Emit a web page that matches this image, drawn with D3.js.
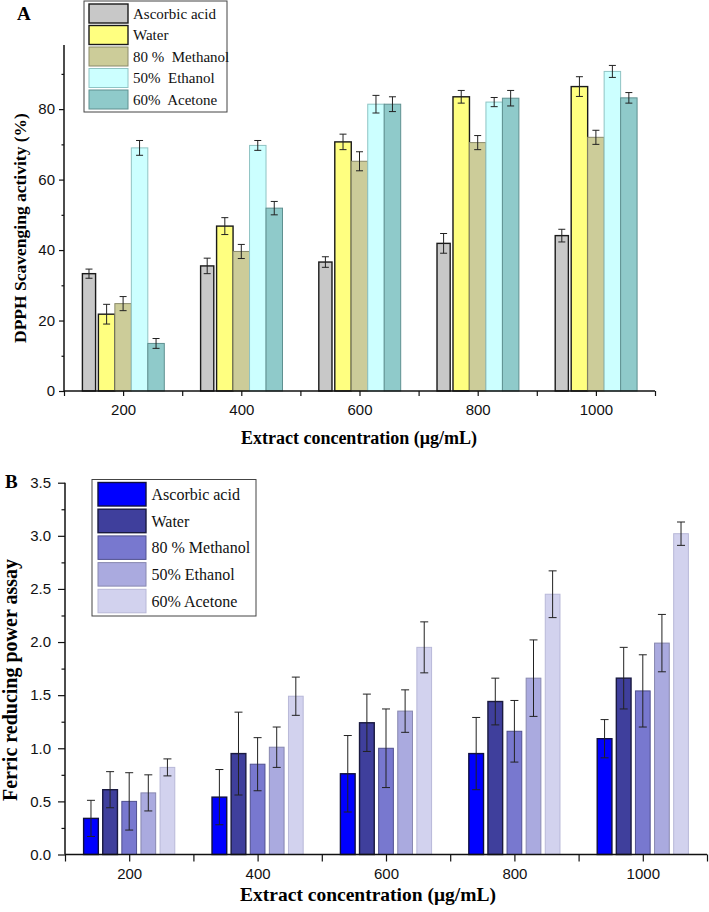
<!DOCTYPE html>
<html><head><meta charset="utf-8">
<script src="https://cdn.jsdelivr.net/npm/d3@7"></script>
<style>body{margin:0;background:#fff}svg{display:block}</style>
</head><body>
<svg id="c" width="709" height="912"></svg>
<script>
const concentrations = [200, 400, 600, 800, 1000];
const seriesA = ["Ascorbic acid", "Water", "80 %  Methanol", "50%  Ethanol", "60%  Acetone"];
const seriesB = ["Ascorbic acid", "Water", "80 % Methanol", "50% Ethanol", "60% Acetone"];
// Panel A: DPPH scavenging (%), rows = series, cols = concentrations
const dpphValues = [
  [33.3, 35.5, 36.6, 41.9, 44.1],
  [21.8, 46.8, 70.7, 83.5, 86.4],
  [24.8, 39.6, 65.2, 70.5, 72.0],
  [69.0, 69.7, 81.4, 82.0, 90.7],
  [13.5, 51.9, 81.4, 83.1, 83.2]
];
const dpphErrors = [
  [1.3, 2.2, 1.5, 2.8, 1.8],
  [2.8, 2.4, 2.2, 1.8, 2.8],
  [2.0, 2.0, 2.7, 2.0, 2.0],
  [2.1, 1.4, 2.5, 1.3, 1.7],
  [1.4, 1.9, 2.1, 2.2, 1.5]
];
// Panel B: Ferric reducing power
const frpValues = [
  [0.34, 0.54, 0.76, 0.95, 1.09],
  [0.61, 0.95, 1.24, 1.44, 1.66],
  [0.50, 0.85, 1.00, 1.16, 1.54],
  [0.58, 1.01, 1.35, 1.66, 1.99],
  [0.82, 1.49, 1.95, 2.45, 3.02]
];
const frpErrors = [
  [0.17, 0.26, 0.36, 0.34, 0.18],
  [0.17, 0.39, 0.27, 0.22, 0.29],
  [0.27, 0.25, 0.37, 0.29, 0.34],
  [0.17, 0.19, 0.20, 0.36, 0.27],
  [0.08, 0.18, 0.24, 0.22, 0.11]
];
const yTicksA = [0, 20, 40, 60, 80];
const yTicksB = [0.0, 0.5, 1.0, 1.5, 2.0, 2.5, 3.0, 3.5];

const fillA = ["#c8c8c8", "#ffff80", "#cccc99", "#ccffff", "#8fcaca"];
const strokeA = ["#1a1a1a", "#1a1a1a", "#8a8a6a", "#8fc4c4", "#5f9090"];
const fillB = ["#0000ff", "#3f3f9c", "#7878cf", "#aaaadf", "#d2d2ee"];
const strokeB = ["#101040", "#1a1a40", "#505090", "#8888b0", "#b8b8d8"];

const svg = d3.select("#c");
const serif = "'Liberation Serif','Times New Roman',serif";
const sans = "Arial,'Liberation Sans',sans-serif";

function panel(o) {
  const g = svg.append("g");
  const x = d3.scaleLinear().domain([100, 1100]).range([o.x0, o.x1]);
  const y = d3.scaleLinear().domain(o.ydom).range([o.yb, o.yt]);
  const step = x(300) - x(100);
  const inner = d3.scaleBand().domain(d3.range(5)).range([-o.groupW * step / 2, o.groupW * step / 2]).paddingInner(o.padIn);

  // bars
  o.values.forEach((row, si) => {
    row.forEach((v, ci) => {
      const cx = x(concentrations[ci]);
      let bx = cx + inner(si), bw = inner.bandwidth();
      if (o.narrowFirst && si === 0) { bx += 0.5; bw *= 0.8; }
      g.append("rect").attr("x", bx).attr("y", y(v)).attr("width", bw).attr("height", y(0) - y(v))
        .attr("fill", o.fills[si]).attr("stroke", o.strokes[si]).attr("stroke-width", si < 2 ? 1.4 : 1);
      const ex = bx + bw / 2, e = o.errors[si][ci];
      const eg = g.append("g").attr("stroke", "#222").attr("stroke-width", 1);
      eg.append("line").attr("x1", ex).attr("x2", ex).attr("y1", y(v + e)).attr("y2", y(v - e));
      eg.append("line").attr("x1", ex - o.cap).attr("x2", ex + o.cap).attr("y1", y(v + e)).attr("y2", y(v + e));
      eg.append("line").attr("x1", ex - o.cap).attr("x2", ex + o.cap).attr("y1", y(v - e)).attr("y2", y(v - e));
    });
  });

  // y axis
  const ya = g.append("g").attr("transform", `translate(${o.x0},0)`)
    .call(d3.axisLeft(y).tickValues(o.yTicks).tickSize(o.tick).tickFormat(o.yfmt).tickPadding(o.ypad));
  ya.append("g").call(d3.axisLeft(y).tickValues(o.yMinor).tickSize(o.tick / 2).tickFormat(""));
  g.selectAll("path.domain").remove();
  g.append("line").attr("x1", o.x0).attr("x2", o.x0).attr("y1", o.yb).attr("y2", o.yt).attr("stroke", "#111").attr("stroke-width", 1.5);

  // x axis
  const xa = g.append("g").attr("transform", `translate(0,${o.yb})`)
    .call(d3.axisBottom(x).tickValues(concentrations).tickSize(o.tick).tickPadding(o.xpad).tickFormat(d3.format("d")));
  xa.append("g").call(d3.axisBottom(x).tickValues([100, 300, 500, 700, 900, 1100]).tickSize(o.tick).tickFormat(""));
  g.selectAll("path.domain").remove();
  g.append("line").attr("x1", o.x0).attr("x2", o.x1).attr("y1", o.yb).attr("y2", o.yb).attr("stroke", "#111").attr("stroke-width", 1.5);
  g.selectAll(".tick line").attr("stroke", "#111").attr("stroke-width", 1.2);
  g.selectAll(".tick text").style("font-family", sans).style("font-size", o.tickFont + "px").attr("fill", "#111");

  // titles
  g.append("text").attr("x", o.xtX).attr("y", o.xtY).attr("text-anchor", "middle")
    .style("font-family", serif).attr("font-weight", "bold").style("font-size", o.xtFont + "px").text("Extract concentration (μg/mL)");
  g.append("text").attr("transform", `translate(${o.ytX},${o.ytY}) rotate(-90)`).attr("text-anchor", "middle")
    .style("font-family", serif).attr("font-weight", "bold").style("font-size", o.ytFont + "px").text(o.ytitle);
  g.append("text").attr("x", o.lblX).attr("y", o.lblY).style("font-family", serif).attr("font-weight", "bold")
    .style("font-size", "19px").text(o.label);

  // legend
  const L = o.legend;
  g.append("rect").attr("x", L.x).attr("y", L.y).attr("width", L.w).attr("height", L.h)
    .attr("fill", "#fff").attr("stroke", "#444").attr("stroke-width", 1);
  o.names.forEach((n, i) => {
    const ry = L.y + L.top + i * L.pitch;
    g.append("rect").attr("x", L.sx).attr("y", ry).attr("width", L.sw).attr("height", L.sh)
      .attr("fill", o.fills[i]).attr("stroke", o.strokes[i]).attr("stroke-width", i < 2 ? 1.4 : 1);
    g.append("text").attr("x", L.tx).attr("y", ry + L.sh / 2 + L.font * 0.35).style("font-family", serif)
      .style("white-space", "pre").style("font-size", L.font + "px").attr("fill", "#111").text(n);
  });
}

panel({
  x0: 64, x1: 655, yb: 391, yt: 45, ydom: [0, 98.2],
  groupW: 0.697, padIn: 0, narrowFirst: true, cap: 3.5, tick: 5, ypad: 4, xpad: 8,
  values: dpphValues, errors: dpphErrors, fills: fillA, strokes: strokeA, names: seriesA,
  yTicks: yTicksA, yMinor: [10, 30, 50, 70, 90], yfmt: d3.format("d"), tickFont: 15,
  xtFont: 18, xtX: 359, xtY: 444, ytFont: 17.5, ytX: 26, ytY: 228, ytitle: "DPPH Scavenging activity (%)",
  label: "A", lblX: 17, lblY: 20,
  legend: { x: 84, y: 1, w: 143, h: 111, top: 3, pitch: 21.5, sx: 89, sw: 39, sh: 19, tx: 133, font: 15 }
});

panel({
  x0: 65, x1: 707, yb: 854.5, yt: 482.7, ydom: [0, 3.5],
  groupW: 0.71, padIn: 0.23, narrowFirst: false, cap: 4, tick: 7, ypad: 7, xpad: 7,
  values: frpValues, errors: frpErrors, fills: fillB, strokes: strokeB, names: seriesB,
  yTicks: yTicksB, yMinor: d3.range(0.25, 3.5, 0.5), yfmt: d3.format(".1f"), tickFont: 15,
  xtFont: 19.5, xtX: 368, xtY: 901, ytFont: 20, ytX: 17, ytY: 680, ytitle: "Ferric reducing power assay",
  label: "B", lblX: 5, lblY: 488,
  legend: { x: 92, y: 479.5, w: 164, h: 136.5, top: 3, pitch: 26.7, sx: 98, sw: 48, sh: 23.5, tx: 151.5, font: 16 }
});
</script>
</body></html>
